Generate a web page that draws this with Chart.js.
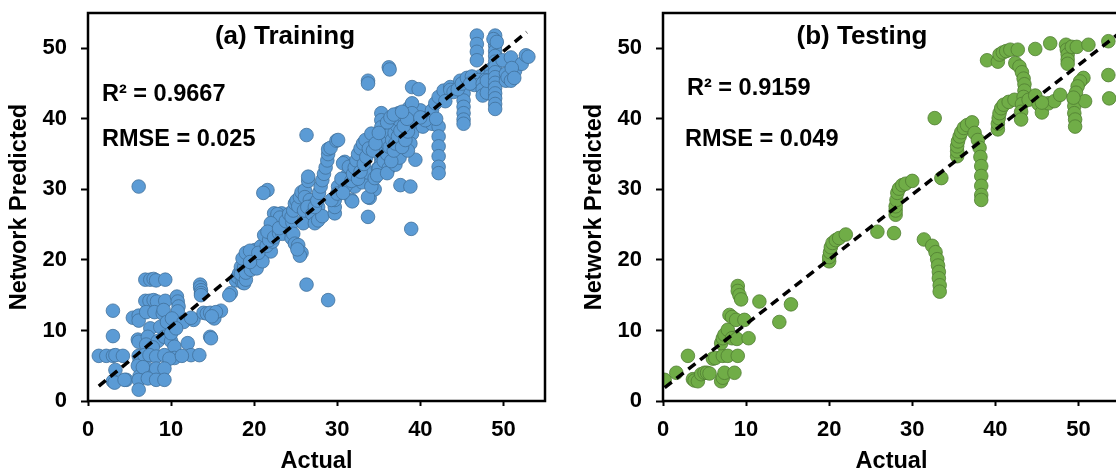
<!DOCTYPE html>
<html><head><meta charset="utf-8">
<script src="https://cdn.jsdelivr.net/npm/chart.js@4.4.1/dist/chart.umd.min.js"></script>
<style>
html,body{margin:0;padding:0;background:#fff;overflow:hidden;width:1116px;height:473px;}
#c1{position:absolute;left:0;top:0;}
#c2{position:absolute;left:575px;top:0;}
</style></head><body>
<canvas id="c1" width="560" height="473"></canvas>
<canvas id="c2" width="560" height="473"></canvas>
<script>
// ---------- data ----------
const axisTicks = [0, 10, 20, 30, 40, 50];
const axisMin = 0, axisMax = 55;
const xTitle = 'Actual';
const yTitle = 'Network Predicted';
const trainTitle = '(a) Training';
const testTitle = '(b) Testing';
const trainStats = ['R\u00B2 = 0.9667', 'RMSE = 0.025'];
const testStats = ['R\u00B2 = 0.9159', 'RMSE = 0.049'];

// [actual, predicted]
const trainPoints = [
[1.3,6.4],[2.2,6.4],[3.0,6.4],[3.3,6.5],[4.2,6.4],[3.0,12.8],[3.0,9.2],[3.3,4.4],[3.0,2.8],[3.2,2.6],[4.6,3.0],[4.4,3.0],
[5.4,11.8],[6.1,12.1],[6.1,11.4],[6.0,8.7],[6.1,8.4],[6.1,6.4],[6.2,5.6],[6.0,5.0],[6.2,3.5],[6.1,3.0],[6.1,1.6],[6.1,30.4],
[6.9,17.2],[7.5,17.2],[7.9,17.3],[8.2,17.1],[9.3,17.2],
[6.9,14.2],[7.4,14.2],[7.9,14.3],[8.3,14.1],[9.3,14.2],
[7.0,12.6],[8.0,12.6],[9.0,12.4],[9.1,12.9],
[10.7,14.8],[10.8,14.1],[10.9,13.4],[10.8,12.7],
[7.5,10.3],[8.7,10.5],[9.5,11.2],[10.1,11.7],[11.5,11.2],[12.7,11.5],[12.4,11.8],
[7.2,9.1],[8.4,8.5],[9.2,9.1],[10.0,8.5],[7.0,8.0],[7.8,7.6],
[10.4,7.7],[12.0,8.2],[10.0,9.6],[10.6,10.3],
[6.8,6.5],[7.4,6.5],[8.2,6.3],[9.2,6.5],[10.4,6.1],[12.4,6.5],[13.4,6.5],[9.8,6.0],[11.3,6.4],
[7.2,4.6],[8.2,4.6],[9.2,4.6],[6.6,4.8],
[7.2,3.2],[8.2,3.0],[9.2,3.0],
[13.5,16.5],[13.5,16.1],[13.6,15.7],[13.6,15.3],[13.6,15.0],
[13.9,12.5],[14.3,12.4],[14.7,12.5],[15.2,11.7],[16.0,12.8],[15.4,12.6],[14.9,12.0],
[14.7,9.1],[14.8,8.9],
[17.2,15.3],[17.0,15.0],
[17.8,17.1],[18.0,17.6],[18.2,18.1],[18.4,19.0],[18.8,20.0],[19.2,20.9],[20.1,21.4],[20.9,21.9],
[18.6,16.8],[18.8,16.7],[18.4,18.0],[18.8,19.0],[19.0,17.2],[19.2,20.5],[19.4,19.2],[19.6,20.0],[19.8,20.8],[20.2,19.8],[20.5,20.4],[20.8,21.9],[21.0,20.6],[21.4,21.2],[22.0,21.2],[19.0,18.2],[19.6,18.6],[20.0,19.4],[18.6,20.2],[19.0,21.0],[19.5,21.3],[20.3,18.8],[21.0,19.8],
[19.5,19.7],[20.5,21.0],[21.5,22.0],[21.8,23.3],[22.2,22.6],
[21.6,29.9],[21.1,29.5],
[21.2,23.5],[21.8,22.8],[22.1,23.7],[22.5,24.7],[22.9,25.6],[23.3,26.6],[22.4,26.6],[22.8,26.5],[23.1,26.0],[22.0,25.2],[21.6,24.0],
[22.4,23.2],[23.0,23.8],[23.5,24.2],[24.0,24.8],[23.4,23.7],[23.8,24.7],[23.0,24.5],[23.8,25.5],[24.2,26.5],[24.6,25.3],
[24.5,23.1],[24.7,23.7],[24.9,22.3],[25.3,22.1],[25.4,21.2],[25.7,21.0],[25.5,20.6],[25.2,21.5],
[24.5,26.1],[24.7,27.0],[24.9,28.0],[25.1,28.4],[25.3,27.6],[25.5,28.9],[25.7,29.6],[26.1,29.9],[26.1,28.9],[26.5,31.2],[26.7,28.5],[27.0,27.7],[26.2,26.0],[25.9,25.2],[26.0,27.0],[26.4,27.5],[27.0,26.5],
[26.3,37.7],[26.5,31.8],[26.3,16.5],[28.9,14.3],
[27.3,25.2],[27.7,27.5],[27.7,25.6],[28.2,26.2],
[27.3,27.5],[27.6,28.4],[27.8,29.5],[28.0,30.4],[28.2,31.3],[28.4,32.2],[28.6,33.1],[28.8,34.1],[28.9,35.0],[28.9,35.7],[29.2,35.9],
[29.9,36.9],[30.9,33.9],[30.7,33.7],[30.1,37.0],
[29.7,26.6],[29.7,27.5],[29.7,28.5],[30.1,30.4],[29.3,28.5],[30.0,29.4],
[31.7,28.5],[32.1,30.4],[31.8,28.3],
[31.2,32.0],[31.0,30.5],[30.5,31.5],[31.4,33.2],[30.7,29.5],[32.7,33.8],[33.3,35.2],[33.0,31.0],[33.6,32.4],
[31.7,31.2],[31.9,32.2],[32.1,33.1],[32.3,34.1],[32.5,35.0],[32.8,35.8],[33.1,36.5],[33.4,37.0],
[32.5,31.5],[32.8,32.5],[33.2,33.6],[33.5,34.6],[33.8,35.8],[34.1,37.9],
[33.7,45.4],[33.7,45.0],[33.9,28.8],[33.7,26.1],[34.5,30.0],[33.7,28.9],
[34.1,30.4],[34.5,31.6],[34.9,33.0],[35.3,34.2],[35.6,35.5],[35.9,36.6],[36.2,37.4],
[35.3,40.8],[35.3,39.8],[35.3,38.8],[35.3,37.8],[35.3,36.7],[35.3,35.7],[35.3,34.7],[35.3,33.7],[35.3,32.5],
[35.7,35.1],[36.0,36.5],[36.4,37.9],[36.8,39.3],[37.1,40.0],[37.4,40.8],
[35.0,33.0],[35.6,34.0],[36.0,35.0],[36.3,36.0],[36.6,37.0],[36.9,38.0],[37.2,39.0],[37.5,39.8],[37.9,40.4],[38.3,41.0],[38.6,41.5],
[36.2,33.0],[36.7,34.2],[37.3,35.2],[37.8,37.8],[38.2,38.6],[38.6,39.4],[39.3,41.0],[39.6,40.0],[40.0,41.2],
[34.3,35.5],[34.6,36.5],[35.0,38.0],[34.8,32.0],[36.0,32.3],[37.0,33.5],[37.5,34.5],
[36.2,47.3],[36.3,47.0],
[36.5,34.0],[36.8,35.5],[37.0,36.5],[37.3,37.5],[37.6,38.3],[36.0,39.5],[36.4,40.2],[36.8,40.6],
[37.6,30.6],[38.8,30.4],
[39.0,44.5],[39.8,44.2],
[39.0,42.2],[39.0,40.8],[39.0,39.3],[39.0,37.9],[38.8,36.5],[39.4,34.2],[38.5,35.5],
[37.8,36.0],[38.2,37.0],[38.5,38.2],[38.0,39.0],[38.4,40.0],[37.8,41.0],
[38.9,24.4],
[40.3,38.9],[41.0,40.3],[41.4,39.3],[40.6,39.8],[40.0,40.2],
[41.4,41.2],[41.8,42.2],[42.2,43.1],[42.8,44.0],[43.6,44.5],[43.6,44.1],[43.0,42.5],[44.0,43.8],
[42.2,38.9],[42.2,37.5],[42.2,36.1],[42.2,34.7],[42.2,33.2],[42.2,32.3],[41.9,40.0],
[44.8,45.4],[45.0,44.6],[45.2,43.6],[45.2,42.6],[45.2,41.7],[45.2,40.8],[45.2,39.9],[45.2,39.3],
[44.5,44.2],[45.0,45.0],[45.8,45.5],[46.5,45.8],[47.2,46.0],[48.0,46.3],[48.5,47.0],[48.3,46.0],
[45.6,45.8],[46.2,46.0],[47.0,45.5],[47.8,45.5],[46.5,44.8],[46.0,45.0],
[46.8,51.8],[46.8,50.6],[46.8,49.5],[46.8,48.3],
[47.5,45.0],[47.5,44.2],[47.5,43.3],[48.0,43.7],[48.0,45.4],
[49.0,51.8],[49.0,51.1],[49.0,50.4],[49.0,49.6],[49.0,48.9],[49.0,48.1],[49.0,47.4],[49.0,46.6],[49.0,45.9],[49.0,45.1],[49.0,44.4],[49.0,43.6],[49.0,42.9],[49.0,42.1],[49.0,41.4],
[48.8,51.3],[49.2,50.9],
[49.9,48.3],[50.3,46.4],[50.3,45.4],[50.5,45.9],[50.9,45.4],[50.9,48.7],[51.4,46.8],[52.2,47.8],[52.7,49.0],[53.0,48.8],[51.0,47.2],[51.3,45.8]
];

const testPoints = [
[0.2,3.0],[1.6,4.0],[3.0,6.4],[3.6,3.1],[3.8,2.9],[4.2,2.8],[4.6,3.8],[5.0,4.0],[5.3,4.0],[5.6,3.9],[6.0,6.0],[6.3,6.1],
[7.0,2.8],[7.2,3.3],[7.4,4.0],[8.6,4.0],[7.2,6.4],[7.8,6.4],[9.0,6.4],[7.0,8.2],[7.2,8.9],[7.4,9.4],[7.8,10.1],
[8.0,12.2],[8.3,11.9],[8.8,11.5],[9.8,11.5],[8.3,8.9],[8.9,8.8],[10.3,8.9],[9.0,16.3],[9.0,15.6],[9.2,15.0],[9.4,14.4],
[11.6,14.1],[14.0,11.2],[15.4,13.7],
[20.0,19.8],[20.0,20.4],[20.1,21.1],[20.2,21.8],[20.4,22.4],[20.8,22.8],[21.2,23.1],[22.0,23.6],
[25.8,24.0],[27.8,23.8],
[28.0,26.4],[28.0,27.0],[28.0,27.6],[28.1,28.5],[28.2,29.5],[28.4,30.1],[28.8,30.6],[29.2,30.8],[30.0,31.2],
[33.5,31.6],[32.7,40.1],
[31.4,22.9],[32.4,22.0],[32.8,21.1],[33.0,20.1],[33.1,19.2],[33.2,18.3],[33.2,17.4],[33.3,16.4],[33.3,15.5],
[35.4,34.7],[35.4,35.4],[35.4,36.1],[35.5,36.8],[35.7,37.5],[35.9,38.1],[36.2,38.7],[36.6,39.1],[37.2,39.5],
[37.5,38.0],[37.9,37.0],[38.1,35.9],[38.2,34.6],[38.3,33.3],[38.3,31.9],[38.3,30.5],[38.3,29.2],[38.3,28.5],
[39.0,48.3],[40.3,48.1],[40.5,49.1],[40.9,49.4],[41.3,49.6],[41.8,49.8],[42.7,49.8],
[40.3,38.5],[40.3,39.3],[40.4,40.1],[40.5,40.8],[40.7,41.5],[41.0,42.0],[41.6,42.4],[42.3,42.7],
[42.4,47.9],[42.9,47.4],[43.2,46.6],[43.4,45.7],[43.5,44.9],[43.5,44.0],[43.4,43.1],[43.2,42.1],[43.1,41.0],[43.1,39.9],
[44.0,42.7],[44.8,43.3],[45.2,42.1],[45.6,40.9],[46.4,42.2],[47.1,42.5],[47.8,43.4],[45.6,42.3],
[44.8,49.9],[46.6,50.7],
[48.5,50.5],[48.6,49.8],[48.7,49.1],[48.7,48.4],[48.7,47.8],[49.2,50.2],[49.8,50.2],[51.2,50.5],
[50.6,45.8],[50.2,45.3],[49.9,44.6],[49.7,43.7],[49.5,42.7],[49.5,41.8],[49.5,40.8],[49.6,39.9],[49.6,38.9],[50.8,42.5],[49.4,43.0],
[53.6,51.0],[53.6,46.2],[53.7,42.9]
];

// trend lines [actual, predicted] end points
const trainFit = [[1.3, 2.1], [52.8, 52.3]];
const testFit = [[0.2, 1.9], [55, 52.2]];

// ---------- drawing ----------
const FONT = '"Liberation Sans", Arial, sans-serif';

const panelPlugin = {
  id: 'panel',
  afterDatasetsDraw(chart, args, opts) {
    const {ctx, chartArea: a} = chart;
    ctx.save();
    ctx.strokeStyle = '#000';
    ctx.lineWidth = 2.5;
    ctx.strokeRect(a.left, a.top, a.right - a.left, a.bottom - a.top);
    ctx.fillStyle = '#000';
    ctx.textBaseline = 'middle';
    for (const t of opts.items) {
      ctx.font = 'bold ' + t.size + 'px ' + FONT;
      ctx.textAlign = t.align;
      ctx.fillText(t.text, t.x, t.y);
    }
    ctx.restore();
  }
};

function makeScale(axis) {
  const isX = axis === 'x';
  return {
    type: 'linear',
    min: axisMin, max: axisMax,
    afterBuildTicks: s => { s.ticks = axisTicks.map(v => ({value: v})); },
    afterFit: s => {
      if (isX) { s.height = 72; s.paddingLeft = 0; s.paddingRight = 0; }
      else { s.width = 88; s.paddingTop = 0; s.paddingBottom = 0; }
    },
    grid: {display: true, drawOnChartArea: false, drawTicks: true,
           tickLength: isX ? 5 : 7, tickColor: '#000', tickWidth: 2},
    border: {display: false},
    ticks: {color: '#000', padding: isX ? 11 : 14, maxRotation: 0,
            font: {family: FONT, size: 22, weight: 'bold'}},
    title: {display: true, text: isX ? xTitle : yTitle, color: '#000',
            font: {family: FONT, size: 23.5, weight: 'bold', lineHeight: 1},
            padding: isX ? {top: 0, bottom: 0} : {top: 8, bottom: 0}}
  };
}

function makeChart(id, pts, fit, fill, stroke, items) {
  new Chart(document.getElementById(id), {
    type: 'scatter',
    data: {
      datasets: [
        {type: 'line', data: fit.map(([x, y]) => ({x, y})), borderColor: '#000',
         borderWidth: 3.5, borderDash: [9, 6], pointRadius: 0, fill: false,
         showLine: true, order: 0},
        {data: pts.map(([x, y]) => ({x, y})), backgroundColor: fill,
         borderColor: stroke, borderWidth: 0.8, pointRadius: 6.8, order: 1}
      ]
    },
    options: {
      responsive: false, animation: false, devicePixelRatio: 1,
      layout: {padding: {top: 13, right: 15, left: 0, bottom: 0}},
      plugins: {legend: {display: false}, tooltip: {enabled: false}, panel: {items}},
      scales: {x: makeScale('x'), y: makeScale('y')}
    },
    plugins: [panelPlugin]
  });
}

makeChart('c1', trainPoints, trainFit, '#5B9BD5', '#41719C', [
  {text: trainTitle, x: 285, y: 37, size: 26, align: 'center'},
  {text: trainStats[0], x: 102, y: 95, size: 23.5, align: 'left'},
  {text: trainStats[1], x: 102, y: 140, size: 23.5, align: 'left'}
]);
makeChart('c2', testPoints, testFit, '#70AD47', '#507E32', [
  {text: testTitle, x: 287, y: 37, size: 26, align: 'center'},
  {text: testStats[0], x: 112, y: 89, size: 23.5, align: 'left'},
  {text: testStats[1], x: 110, y: 140, size: 23.5, align: 'left'}
]);
</script>
</body></html>
